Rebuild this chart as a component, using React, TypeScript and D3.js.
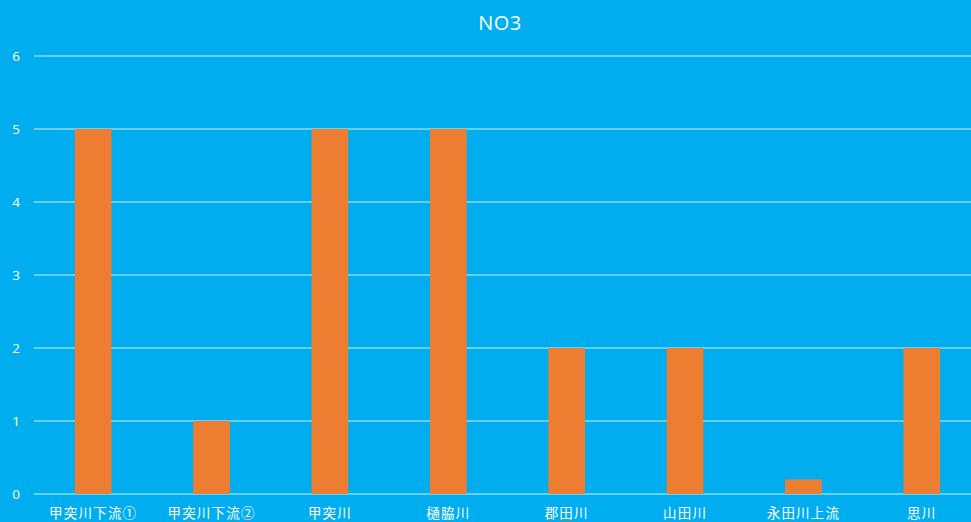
import * as d3 from "d3";
import { useEffect, useRef } from "react";

const categories = ["甲突川下流①", "甲突川下流②", "甲突川", "樋脇川", "郡田川", "山田川", "永田川上流", "思川"];
const values = [5, 1, 5, 5, 2, 2, 0.2, 2];
const yTicks = [0, 1, 2, 3, 4, 5, 6];

export default function App() {
  const ref = useRef<SVGSVGElement>(null);

  useEffect(() => {
    const width = 971;
    const height = 522;
    const margin = { top: 56, right: -10, bottom: 28, left: 34 };

    const svg = d3.select(ref.current);
    svg.selectAll("*").remove();

    svg.append("rect")
      .attr("width", width)
      .attr("height", height)
      .attr("fill", "#00AEEF");

    // Scales
    const x = d3.scaleBand<string>()
      .domain(categories)
      .range([margin.left, width - margin.right])
      .paddingInner(0.69)
      .paddingOuter(0.345);

    const y = d3.scaleLinear()
      .domain([0, 6])
      .range([height - margin.bottom, margin.top]);

    // Gridlines
    svg.append("g")
      .selectAll("line")
      .data(yTicks)
      .join("line")
      .attr("x1", margin.left)
      .attr("x2", width)
      .attr("y1", d => y(d))
      .attr("y2", d => y(d))
      .attr("stroke", "#8ADAF8")
      .attr("stroke-width", 1.3);

    // Y tick labels
    svg.append("g")
      .selectAll("text")
      .data(yTicks)
      .join("text")
      .attr("x", 20)
      .attr("y", d => y(d))
      .attr("dy", "0.35em")
      .attr("text-anchor", "end")
      .attr("fill", "#fff")
      .attr("font-size", 13.5)
      .attr("font-family", "'Open Sans', 'Noto Sans', sans-serif")
      .text(d => d);

    // Bars
    svg.append("g")
      .selectAll("rect")
      .data(values)
      .join("rect")
      .attr("x", (d, i) => x(categories[i])!)
      .attr("width", x.bandwidth())
      .attr("y", d => y(d))
      .attr("height", d => y(0) - y(d))
      .attr("fill", "#ED7D31");

    // Category labels
    svg.append("g")
      .selectAll("text")
      .data(categories)
      .join("text")
      .attr("x", d => x(d)! + x.bandwidth() / 2)
      .attr("y", 518)
      .attr("text-anchor", "middle")
      .attr("fill", "#fff")
      .attr("font-size", 13.5)
      .attr("letter-spacing", 1.2)
      .attr("font-family", "'Noto Sans CJK JP', sans-serif")
      .text(d => d);

    // Title
    svg.append("text")
      .attr("x", 500)
      .attr("y", 30)
      .attr("text-anchor", "middle")
      .attr("fill", "#fff")
      .attr("font-size", 20)
      .attr("letter-spacing", 0.5)
      .attr("font-family", "'Open Sans', 'Noto Sans', sans-serif")
      .text("NO3");
  }, []);

  return (
    <svg
      ref={ref}
      width={971}
      height={522}
      style={{ position: "fixed", top: 0, left: 0, display: "block" }}
    />
  );
}
